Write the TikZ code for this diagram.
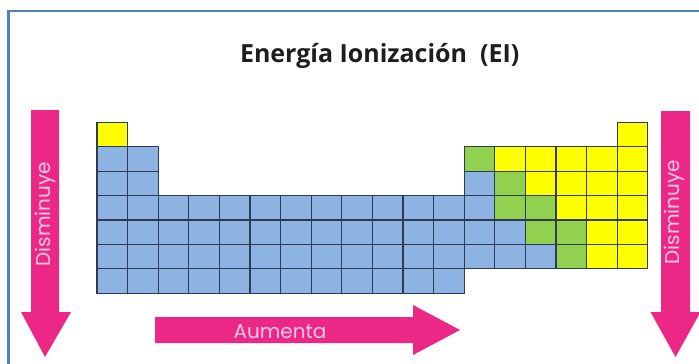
\documentclass[tikz,border=0pt]{standalone}
\usepackage{fontspec}
\newfontfamily\titlef{Open Sans}
\newfontfamily\labf{Poppins}
\definecolor{cB}{RGB}{141,179,226}
\definecolor{cY}{RGB}{255,255,0}
\definecolor{cG}{RGB}{146,208,80}
\definecolor{gridc}{RGB}{45,60,80}
\definecolor{arrowc}{RGB}{236,40,135}
\definecolor{labc}{RGB}{250,200,230}
\definecolor{framec}{RGB}{79,129,189}
\definecolor{titlec}{RGB}{30,30,30}
\tikzset{
  cellfill/.style={draw=none},
  cellline/.style={draw=gridc, line width=1.1pt},
  bigarrow/.style={fill=arrowc},
  arrowlab/.style={text=labc, font=\labf\fontsize{20}{20}\selectfont, inner sep=0pt},
  titlelab/.style={text=titlec, font=\titlef\bfseries\fontsize{25}{25}\selectfont, inner sep=0pt},
}
\begin{document}
\begin{tikzpicture}[x=1pt,y=-1pt]
\useasboundingbox (0,0) rectangle (699,364);
\fill[white] (0,0) rectangle (699,364);
% frame
\draw[framec, line width=2.5pt] (8.7,370) -- (8.7,11) -- (710,11);
% title
\node[titlelab, anchor=base] (title) at (379.7,62.7) {Energía Ionización\ \ (EI)};
% table: two passes (fill, then grid lines)
\foreach \pass in {1,2}{
  \foreach \cells [count=\r] in {
    {Y,0,0,0,0,0,0,0,0,0,0,0,0,0,0,0,0,Y},
    {B,B,0,0,0,0,0,0,0,0,0,0,G,Y,Y,Y,Y,Y},
    {B,B,0,0,0,0,0,0,0,0,0,0,B,G,Y,Y,Y,Y},
    {B,B,B,B,B,B,B,B,B,B,B,B,B,G,G,Y,Y,Y},
    {B,B,B,B,B,B,B,B,B,B,B,B,B,B,G,G,Y,Y},
    {B,B,B,B,B,B,B,B,B,B,B,B,B,B,B,G,Y,Y},
    {B,B,B,B,B,B,B,B,B,B,B,B,0,0,0,0,0,0}}{
    \foreach \c [count=\i] in \cells {
      \if\c0\else
        \ifnum\pass=1
          \path[cellfill, fill=c\c] ({97+(\i-1)*30.6},{122.3+(\r-1)*24.43}) rectangle ++(30.6,24.43);
        \else
          \path[cellline] ({97+(\i-1)*30.6},{122.3+(\r-1)*24.43}) rectangle ++(30.6,24.43);
        \fi
      \fi
    }
  }
}
% arrows
\fill[bigarrow] (31,110) -- (59,110) -- (59,312) -- (71,312) -- (45,357) -- (21,312) -- (31,312) -- cycle;
\fill[bigarrow] (661,111) -- (690,111) -- (690,312) -- (700.5,312) -- (675.5,357) -- (650.5,312) -- (661,312) -- cycle;
\fill[bigarrow] (155,317) -- (413,317) -- (413,305) -- (460,330) -- (413,355) -- (413,343) -- (155,343) -- cycle;
% arrow labels
\node[arrowlab, rotate=90, anchor=base] (dl) at (50,214) {Disminuye};
\node[arrowlab, rotate=90, anchor=base] (dr) at (679,212) {Disminuye};
\node[arrowlab, anchor=base] (au) at (280,338) {Aumenta};
\end{tikzpicture}
\end{document}
